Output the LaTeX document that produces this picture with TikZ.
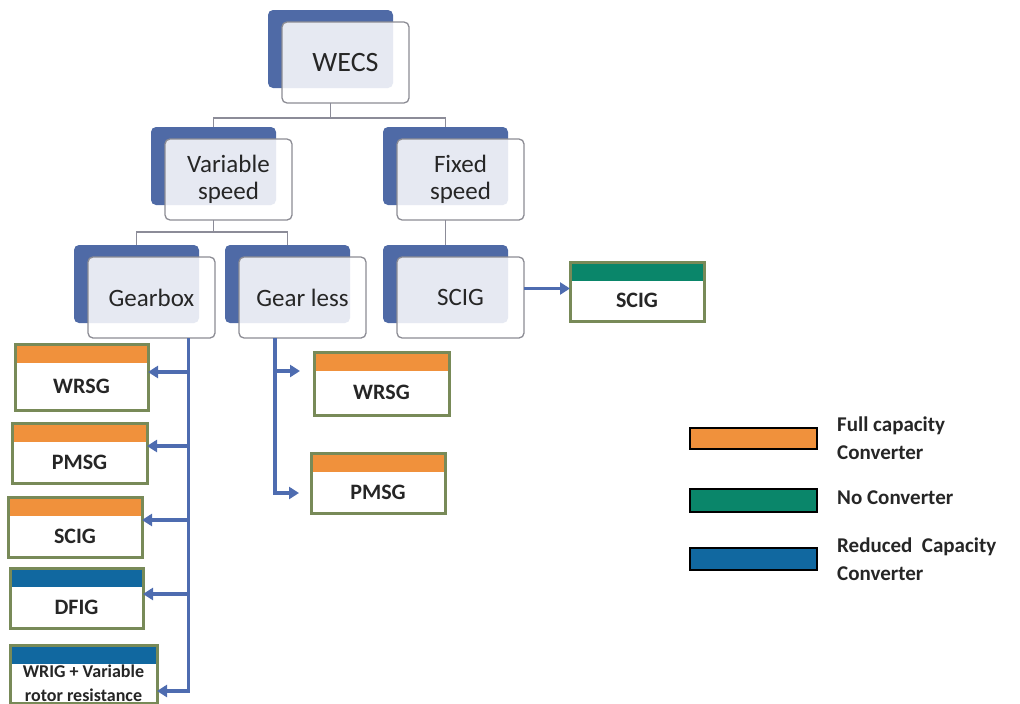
\documentclass[tikz,border=0pt]{standalone}
\usepackage{fontspec}
\setmainfont{Carlito}
\usetikzlibrary{arrows.meta,calc}
\definecolor{backblue}{RGB}{79,106,166}
\definecolor{frontgray}{RGB}{140,140,148}
\definecolor{conngray}{RGB}{140,140,152}
\definecolor{arrowblue}{RGB}{78,108,176}
\definecolor{barorange}{RGB}{240,145,60}
\definecolor{barteal}{RGB}{10,134,106}
\definecolor{barblue}{RGB}{17,104,160}
\definecolor{olivebd}{RGB}{120,138,88}
\definecolor{txtgray}{RGB}{38,38,38}
\tikzset{
  sback/.style={rectangle, rounded corners=5pt, fill=backblue, minimum width=125pt, minimum height=78pt, inner sep=0pt, outer sep=0pt},
  sfront/.style={rectangle, rounded corners=5pt, draw=frontgray, line width=1.3pt, fill=white, fill opacity=0.86, text opacity=1, minimum width=127pt, minimum height=81pt, inner sep=0pt, outer sep=0pt, align=center, text=txtgray, font=\fontsize{25}{27}\selectfont},
  conn/.style={draw=conngray, line width=1.1pt},
  barrow/.style={draw=arrowblue, line width=3.4pt, -{Triangle[length=10pt,width=12pt]}},
  genbox/.style={rectangle, fill=white, inner sep=0pt, outer sep=0pt},
  gtext/.style={text=txtgray, font=\bfseries\fontsize{22}{24}\selectfont, align=center, inner sep=0pt},
  legbar/.style={rectangle, draw=black, line width=2.2pt, inner sep=0pt, outer sep=0pt, minimum width=127pt, minimum height=21pt},
  legtext/.style={text=txtgray, font=\bfseries\fontsize{21}{28}\selectfont, align=left, inner sep=0pt, anchor=west}
}
\newcommand\sanode[4]{%
  \node[sback, anchor=north west] (#1B) at (#2,#3) {};
  \node[sfront, anchor=north west] (#1F) at (#2+14,#3+12) {#4};
}
\newcommand\genbx[7]{%
  \node[genbox, anchor=north west, minimum width={(#4)-(#2)}, minimum height={(#5)-(#3)}] (#1) at (#2,#3) {};
  \fill[#6] (#1.north west) rectangle ([yshift=-19pt]#1.north east);
  \draw[olivebd, line width=3pt] (#1.north west) rectangle (#1.south east);
  \node[gtext] (#1t) at ($(#1.center)+(0,9)$) {#7};
}
\begin{document}
\begin{tikzpicture}[x=1pt,y=-1pt]
\useasboundingbox (0,0) rectangle (1020,704);
% smartart nodes
\sanode{wecs}{268}{10}{\fontsize{28}{30}\selectfont WECS}
\sanode{var}{151}{127}{Variable\\speed}
\sanode{fix}{383}{127}{Fixed\\speed}
\sanode{gear}{74}{245}{Gearbox}
\sanode{gl}{225}{245}{Gear less}
\sanode{scig}{383}{245}{SCIG}
% gray connectors
\draw[conn] (wecsB.center |- wecsF.south) -- ++(0,15) -| (varB.north);
\draw[conn] (wecsB.center |- wecsF.south) -- ++(0,15) -| (fixB.north);
\draw[conn] (varB.center |- varF.south) -- ++(0,12) -| (gearB.north);
\draw[conn] (varB.center |- varF.south) -- ++(0,12) -| (glB.north);
\draw[conn] (fixB.center |- fixF.south) -- (scigB.north);
% generator boxes
\genbx{wrsga}{15}{344}{148}{410}{barorange}{WRSG}
\genbx{pmsga}{12}{423}{147}{483}{barorange}{PMSG}
\genbx{sciga}{8}{497}{142}{557}{barorange}{SCIG}
\genbx{dfig}{10}{568}{143}{628}{barblue}{DFIG}
\genbx{wrig}{10}{645}{157}{703}{barblue}{\fontsize{18}{21}\selectfont WRIG + Variable\\\fontsize{18}{21}\selectfont rotor resistance}
\genbx{wrsgb}{314}{352}{449}{415}{barorange}{WRSG}
\genbx{pmsgb}{311}{453}{445}{513}{barorange}{PMSG}
\genbx{scigb}{570}{262}{704}{321}{barteal}{SCIG}
% blue arrows
\coordinate (gtop) at ([xshift=37pt]gearF.south);
\draw[barrow] (gtop) |- ([yshift=-17pt]wrig.east);
\draw[barrow] ([yshift=5pt]wrsga.east -| gtop) -- ([yshift=5pt]wrsga.east);
\draw[barrow] ([yshift=7pt]pmsga.east -| gtop) -- ([yshift=7pt]pmsga.east);
\draw[barrow] ([yshift=7pt]sciga.east -| gtop) -- ([yshift=7pt]sciga.east);
\draw[barrow] ([yshift=4pt]dfig.east -| gtop) -- ([yshift=4pt]dfig.east);
\coordinate (ltop) at ([xshift=-27.5pt]glF.south);
\draw[barrow, shorten >=12pt] (ltop) |- ([yshift=-10pt]pmsgb.west);
\draw[barrow, shorten >=14pt] ([yshift=12.5pt]wrsgb.west -| ltop) -- ([yshift=12.5pt]wrsgb.west);
\draw[barrow] ([yshift=9pt]scigF.east) -- ([yshift=9pt]scigF.east -| scigb.west);
% legend
\node[legbar, fill=barorange, anchor=north west] (lfull) at (690,428) {};
\node[legbar, fill=barteal, anchor=north west, minimum height=23pt] (lno) at (690,489) {};
\node[legbar, fill=barblue, anchor=north west, minimum height=22pt] (lred) at (690,548) {};
\node[legtext] (tfull) at ([xshift=20pt]lfull.east) {Full capacity\\Converter};
\node[legtext] (tno) at ([xshift=20pt,yshift=3pt]lno.east) {No Converter};
\node[legtext] (tred) at ([xshift=20pt]lred.east) {Reduced\ \ Capacity\\Converter};
\end{tikzpicture}
\end{document}
